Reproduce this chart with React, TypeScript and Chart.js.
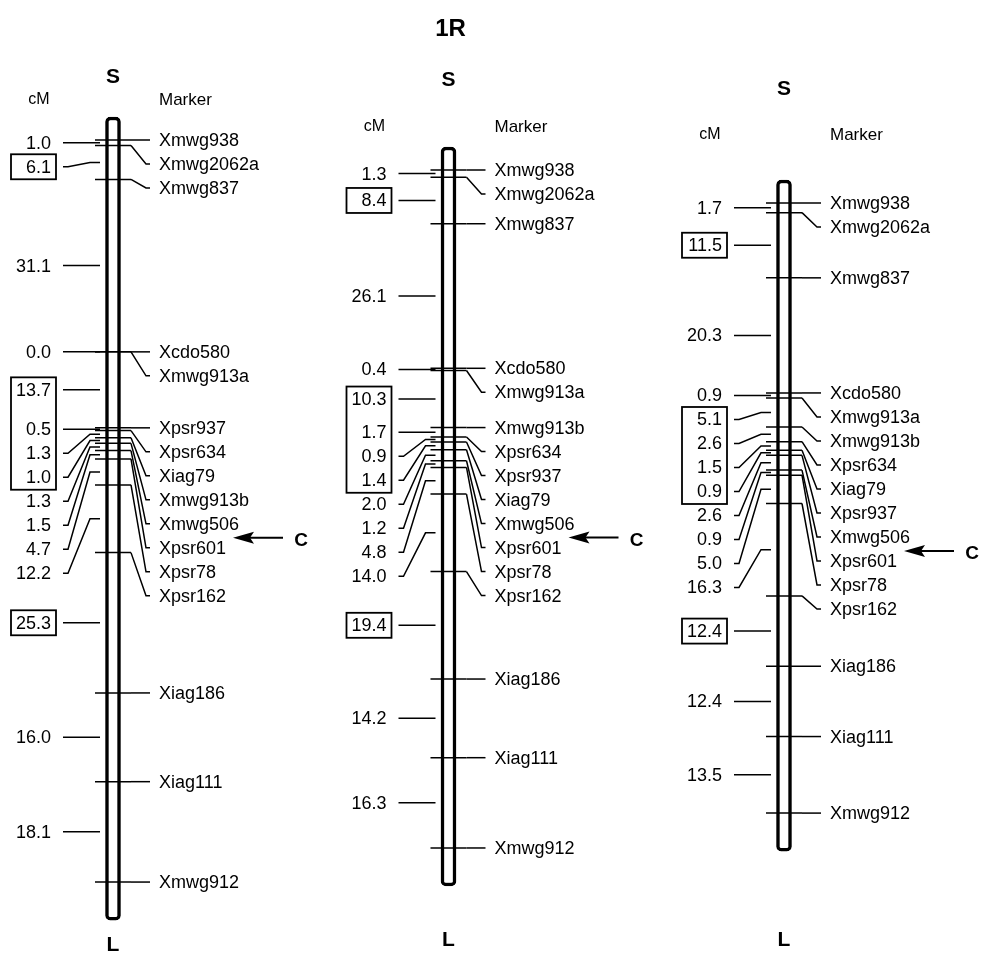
import React, { useEffect, useRef } from "react";
import { Chart, registerables } from "chart.js";

Chart.register(...registerables);

const W = 984;
const H = 953;
const FONT = '"Liberation Sans", Arial, Helvetica, sans-serif';

// ---------------- data ----------------
const chartTitle = "1R";
const shortArmLabel = "S";
const longArmLabel = "L";
const centromereLabel = "C";
const cmHeader = "cM";
const markerHeader = "Marker";

const markers1 = ["Xmwg938", "Xmwg2062a", "Xmwg837", "Xcdo580", "Xmwg913a", "Xpsr937", "Xpsr634", "Xiag79", "Xmwg913b", "Xmwg506", "Xpsr601", "Xpsr78", "Xpsr162", "Xiag186", "Xiag111", "Xmwg912"];
const intervals1 = [1.0, 6.1, 31.1, 0.0, 13.7, 0.5, 1.3, 1.0, 1.3, 1.5, 4.7, 12.2, 25.3, 16.0, 18.1];
const boxedRuns1 = [[1, 1], [4, 7], [12, 12]];
const centromereAfter1 = "Xmwg506";

const markers2 = ["Xmwg938", "Xmwg2062a", "Xmwg837", "Xcdo580", "Xmwg913a", "Xmwg913b", "Xpsr634", "Xpsr937", "Xiag79", "Xmwg506", "Xpsr601", "Xpsr78", "Xpsr162", "Xiag186", "Xiag111", "Xmwg912"];
const intervals2 = [1.3, 8.4, 26.1, 0.4, 10.3, 1.7, 0.9, 1.4, 2.0, 1.2, 4.8, 14.0, 19.4, 14.2, 16.3];
const boxedRuns2 = [[1, 1], [4, 7], [12, 12]];
const centromereAfter2 = "Xmwg506";

const markers3 = ["Xmwg938", "Xmwg2062a", "Xmwg837", "Xcdo580", "Xmwg913a", "Xmwg913b", "Xpsr634", "Xiag79", "Xpsr937", "Xmwg506", "Xpsr601", "Xpsr78", "Xpsr162", "Xiag186", "Xiag111", "Xmwg912"];
const intervals3 = [1.7, 11.5, 20.3, 0.9, 5.1, 2.6, 1.5, 0.9, 2.6, 0.9, 5.0, 16.3, 12.4, 12.4, 13.5];
const boxedRuns3 = [[1, 1], [4, 7], [12, 12]];
const centromereAfter3 = "Xmwg506";

const maps = [
  { markers: markers1, intervals: intervals1, boxed: boxedRuns1, centromereAfter: centromereAfter1 },
  { markers: markers2, intervals: intervals2, boxed: boxedRuns2, centromereAfter: centromereAfter2 },
  { markers: markers3, intervals: intervals3, boxed: boxedRuns3, centromereAfter: centromereAfter3 },
];

// ---------------- layout (pixels) ----------------
const mapLayout = [
  { zeroPx: 140, pxPerCM: 5.546, sY: 77, headerY: 100, lY: 945 },
  { zeroPx: 170, pxPerCM: 5.539, sY: 80, headerY: 127, lY: 940 },
  { zeroPx: 203, pxPerCM: 5.67, sY: 89, headerY: 135, lY: 940 },
];
const firstCx = 113;
const colStep = 335.5;
const GAP = 24;
const CHROM_TOP_PAD = 23;
const CHROM_BOTTOM_PAD = 38;

function cumulative(iv: number[]): number[] {
  const out = [0];
  iv.forEach((d) => out.push(Math.round((out[out.length - 1] + d) * 100) / 100));
  return out;
}

function spread(desired: number[], gap: number): number[] {
  const out: number[] = [];
  desired.forEach((d, i) => out.push(i === 0 ? d : Math.max(d, out[i - 1] + gap)));
  return out;
}

const linkagePlugin = {
  id: "linkageText",
  afterDatasetsDraw(chart: any) {
    const ctx = chart.ctx as CanvasRenderingContext2D;
    const xs = chart.scales.x;
    ctx.save();
    ctx.fillStyle = "#000";
    ctx.strokeStyle = "#000";
    ctx.lineCap = "butt";

    ctx.font = `bold 24px ${FONT}`;
    ctx.textAlign = "center";
    ctx.textBaseline = "middle";
    ctx.fillText(chartTitle, xs.getPixelForValue(1) + 2, 29);

    maps.forEach((m, k) => {
      const L = mapLayout[k];
      const ys = chart.scales["y" + (k + 1)];
      const cx = xs.getPixelForValue(k);
      const pos = cumulative(m.intervals);
      const mPx = pos.map((v) => ys.getPixelForValue(v));
      const rLab = spread(mPx, GAP);
      const mids = m.intervals.map((_, i) => ys.getPixelForValue((pos[i] + pos[i + 1]) / 2));
      const lLab = spread(mids, GAP);

      ctx.lineWidth = 1.5;
      ctx.lineJoin = "miter";
      m.markers.forEach((_, i) => {
        ctx.beginPath();
        ctx.moveTo(cx + 18, mPx[i]);
        ctx.lineTo(cx + 33, rLab[i]);
        ctx.lineTo(cx + 37, rLab[i]);
        ctx.stroke();
      });
      m.intervals.forEach((_, i) => {
        ctx.beginPath();
        ctx.moveTo(cx - 50, lLab[i]);
        ctx.lineTo(cx - 45, lLab[i]);
        ctx.lineTo(cx - 23, mids[i]);
        ctx.lineTo(cx - 13, mids[i]);
        ctx.stroke();
      });

      ctx.font = `18px ${FONT}`;
      ctx.textBaseline = "middle";
      ctx.textAlign = "left";
      m.markers.forEach((name, i) => ctx.fillText(name, cx + 46, rLab[i] + 1));
      ctx.textAlign = "right";
      m.intervals.forEach((v, i) => ctx.fillText(v.toFixed(1), cx - 62, lLab[i] + 1));

      ctx.lineWidth = 1.8;
      m.boxed.forEach(([a, b]) => {
        const top = lLab[a] - 12.5;
        const bot = lLab[b] + 12.5;
        ctx.strokeRect(cx - 102, top, 45, bot - top);
      });

      ctx.font = `16px ${FONT}`;
      ctx.textAlign = "center";
      ctx.fillText(cmHeader, cx - 74, L.headerY);
      ctx.font = `17px ${FONT}`;
      ctx.textAlign = "left";
      ctx.fillText(markerHeader, cx + 46, L.headerY);

      ctx.font = `bold 21px ${FONT}`;
      ctx.textAlign = "center";
      ctx.fillText(shortArmLabel, cx, L.sY);
      ctx.fillText(longArmLabel, cx, L.lY);

      const ci = m.markers.indexOf(m.centromereAfter);
      const ay = (rLab[ci] + rLab[ci + 1]) / 2 + 2;
      const tipX = cx + 120;
      const tailX = cx + 170;
      ctx.lineWidth = 2;
      ctx.beginPath();
      ctx.moveTo(tipX + 15, ay);
      ctx.lineTo(tailX, ay);
      ctx.stroke();
      ctx.beginPath();
      ctx.moveTo(tipX, ay);
      ctx.lineTo(tipX + 21, ay - 6);
      ctx.lineTo(tipX + 17, ay);
      ctx.lineTo(tipX + 21, ay + 6);
      ctx.closePath();
      ctx.fill();
      ctx.font = `bold 19px ${FONT}`;
      ctx.textAlign = "center";
      ctx.fillText(centromereLabel, cx + 188, ay + 3);
    });
    ctx.restore();
  },
};

function buildConfig(): any {
  const scales: any = {
    x: {
      type: "linear",
      display: false,
      offset: false,
      grid: { offset: false },
      min: -firstCx / colStep,
      max: (W - firstCx) / colStep,
    },
  };
  mapLayout.forEach((L, k) => {
    scales["y" + (k + 1)] = {
      type: "linear",
      axis: "y",
      position: "left",
      display: false,
      offset: false,
      reverse: true,
      min: -L.zeroPx / L.pxPerCM,
      max: (H - L.zeroPx) / L.pxPerCM,
    };
  });

  const datasets: any[] = [];
  maps.forEach((m, k) => {
    const L = mapLayout[k];
    const pos = cumulative(m.intervals);
    const total = pos[pos.length - 1];
    datasets.push({
      type: "bar",
      label: "chromosome " + (k + 1),
      xAxisID: "x",
      yAxisID: "y" + (k + 1),
      data: [{ x: k, y: [-CHROM_TOP_PAD / L.pxPerCM, total + CHROM_BOTTOM_PAD / L.pxPerCM] }],
      backgroundColor: "#fff",
      borderColor: "#000",
      borderWidth: 3.5,
      borderRadius: 5,
      borderSkipped: false,
      barThickness: 15,
      maxBarThickness: 15,
      grouped: false,
      order: 2,
    });
    datasets.push({
      type: "scatter",
      label: "markers " + (k + 1),
      xAxisID: "x",
      yAxisID: "y" + (k + 1),
      data: pos.map((v) => ({ x: k, y: v })),
      pointStyle: "line",
      pointRadius: 18,
      pointHoverRadius: 18,
      pointBorderWidth: 1.5,
      borderColor: "#000",
      pointBorderColor: "#000",
      backgroundColor: "#000",
      showLine: false,
      clip: false,
      order: 1,
    });
  });

  return {
    type: "scatter",
    data: { datasets },
    options: {
      animation: false,
      responsive: false,
      maintainAspectRatio: false,
      devicePixelRatio: 1,
      events: [],
      layout: { padding: 0, autoPadding: false },
      plugins: { legend: { display: false }, tooltip: { enabled: false } },
      scales,
    },
    plugins: [linkagePlugin],
  };
}

export default function App() {
  const ref = useRef<HTMLCanvasElement>(null);
  useEffect(() => {
    if (!ref.current) return;
    const chart = new Chart(ref.current, buildConfig());
    return () => chart.destroy();
  }, []);
  return (
    <div style={{ position: "absolute", left: 0, top: 0, width: W, height: H, background: "#fff" }}>
      <canvas ref={ref} width={W} height={H} style={{ width: W, height: H, display: "block" }} />
    </div>
  );
}
